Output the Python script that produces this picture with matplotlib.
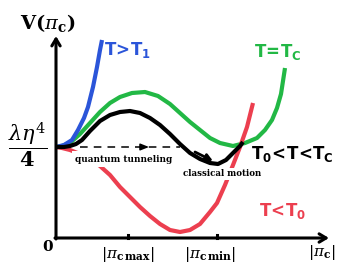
import numpy as np
import matplotlib.pyplot as plt

# curve samples: x along |pi_c|, V above the x axis
black_x = [0, 8, 14, 20, 26, 34, 44, 54, 64, 74, 84, 94, 104, 114, 124, 134, 144, 154, 162, 170, 177, 184, 187]
black_v = [91, 91, 92, 94, 98, 107, 117, 123, 126, 127, 125, 120, 113, 104, 94, 85, 79, 75, 74, 78, 85, 92, 96]

green_x = [0, 6, 14, 24, 34, 44, 54, 64, 76, 89, 102, 114, 124, 134, 144, 154, 164, 177, 189, 201, 209, 216, 221, 225, 229]
green_v = [91, 92, 95, 104, 115, 126, 135, 141, 145, 146, 142, 134, 125, 116, 108, 100, 95, 92, 95, 100, 108, 118, 130, 144, 170]

blue_x = [0, 8, 16, 22, 28, 32, 37, 41, 44, 46]
blue_v = [91, 93, 98, 108, 120, 131, 151, 171, 188, 198]

red_x = [0, 6, 14, 24, 34, 44, 54, 64, 74, 84, 94, 104, 114, 124, 134, 144, 154, 161, 169, 177, 184, 191, 197]
red_v = [91, 90, 88, 84, 79, 72, 63, 51, 41, 31, 22, 14, 8, 6, 8, 14, 26, 35, 53, 73, 91, 111, 135]

level = 91          # lambda eta^4 / 4
pi_max, pi_min = 72, 161

blue = '#2b55d9'
green = '#22b845'
red = '#ec3f4f'

fig = plt.figure(figsize=(3.54, 2.76), dpi=100)
ax = fig.add_axes([0, 0, 1, 1])
ax.set_xlim(-56, 298)
ax.set_ylim(-38, 238)
ax.axis('off')

lw = 3.0
ax.plot(green_x, green_v, color=green, lw=lw, zorder=2, solid_capstyle='butt')
ax.plot(red_x, red_v, color=red, lw=lw, zorder=2.5, solid_capstyle='butt')
ax.plot(blue_x, blue_v, color=blue, lw=lw, zorder=3.5, solid_capstyle='butt')
ax.plot(black_x, black_v, color='black', lw=lw, zorder=4, solid_capstyle='butt')

# axes with open arrow heads
ax.annotate('', xy=(0, 202), xytext=(0, -1),
            arrowprops=dict(arrowstyle='->,head_length=0.5,head_width=0.3', lw=2.2, color='black',
                            shrinkA=0, shrinkB=0), zorder=5)
ax.annotate('', xy=(273, 0), xytext=(-1, 0),
            arrowprops=dict(arrowstyle='->,head_length=0.5,head_width=0.3', lw=2.2, color='black',
                            shrinkA=0, shrinkB=0), zorder=5)
for t in [pi_max, pi_min]:
    ax.plot([t, t], [0, 3], color='black', lw=2.2, zorder=5)

# tunneling (dashed) and classical motion arrows
ax.plot([24, 124], [level, level], color='black', lw=1.1, dashes=(5, 4), zorder=4)
ax.annotate('', xy=(93, level), xytext=(84, level),
            arrowprops=dict(arrowstyle='-|>,head_length=0.5,head_width=0.2', lw=1.1, color='black',
                            shrinkA=0, shrinkB=0), zorder=4)
ax.annotate('', xy=(157, 77), xytext=(139, 86),
            arrowprops=dict(arrowstyle='-|>,head_length=0.4,head_width=0.2', lw=2.0, color='black',
                            shrinkA=0, shrinkB=0), zorder=4)

box = dict(facecolor='white', edgecolor='none', pad=2.2)
ax.text(68, 79, 'quantum tunneling', family='DejaVu Serif', weight='bold', fontsize=6.5,
        ha='center', va='center', bbox=box, zorder=3)
ax.text(166, 64, 'classical motion', family='DejaVu Serif', weight='bold', fontsize=6.2,
        ha='center', va='center', bbox=dict(facecolor='white', edgecolor='none', pad=1.2), zorder=3)

ax.text(72, 188, r'$\mathbf{T\!>\!T_1}$', math_fontfamily='dejavusans', fontsize=12,
        color=blue, ha='center', va='center')
ax.text(222, 186, r'$\mathbf{T\!=\!T_C}$', math_fontfamily='dejavusans', fontsize=12,
        color=green, ha='center', va='center')
ax.text(236, 84, r'$\mathbf{T_0\!<\!T\!<\!T_C}$', math_fontfamily='dejavusans', fontsize=12,
        color='black', ha='center', va='center')
ax.text(227, 27, r'$\mathbf{T\!<\!T_0}$', math_fontfamily='dejavusans', fontsize=12,
        color=red, ha='center', va='center')

ax.text(-8, 215, r'$\mathbf{V(}\pi_{\mathbf{c}}\mathbf{)}$', math_fontfamily='dejavuserif',
        fontsize=14, ha='center', va='center')
ax.text(-28, 93, r'$\dfrac{\lambda\eta^{4}}{\mathbf{4}}$', math_fontfamily='dejavuserif',
        fontsize=15, ha='center', va='center')
ax.text(-8, -9, '0', family='DejaVu Serif', weight='bold', fontsize=11, ha='center', va='center')
ax.text(pi_max, -16, r'$|\pi_{\mathbf{c\,max}}|$', math_fontfamily='dejavuserif',
        fontsize=11, ha='center', va='center')
ax.text(pi_min - 7, -16, r'$|\pi_{\mathbf{c\,min}}|$', math_fontfamily='dejavuserif',
        fontsize=11, ha='center', va='center')
ax.text(266, -15, r'$|\pi_{\mathbf{c}}|$', math_fontfamily='dejavuserif',
        fontsize=11, ha='center', va='center')

fig.savefig('out.png', dpi=100)
